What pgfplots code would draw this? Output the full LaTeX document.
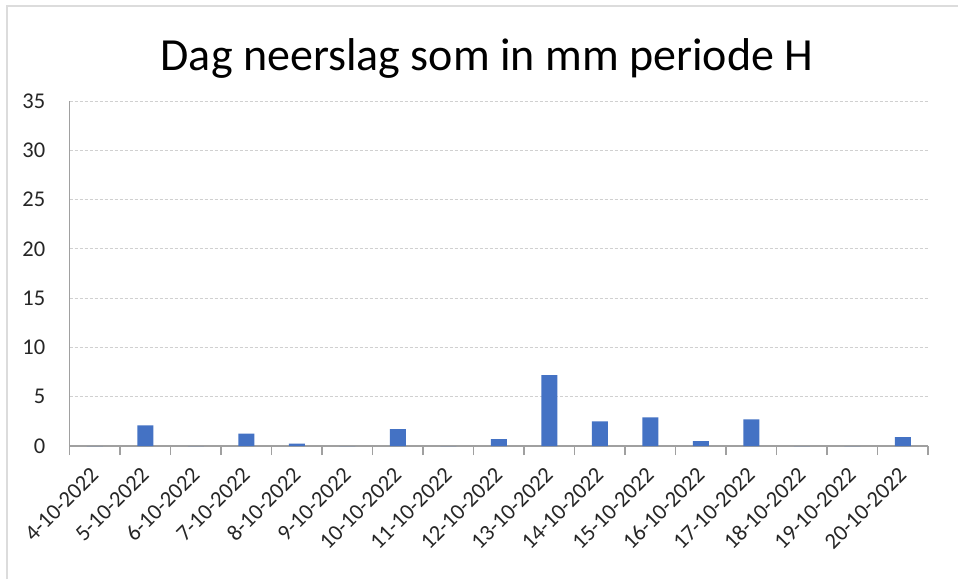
\documentclass[border=0pt]{standalone}
\usepackage{pgfplots}
\pgfplotsset{compat=1.18}
\usepackage{fontspec}
\setmainfont{Carlito}
\definecolor{barblue}{HTML}{4472C4}
\definecolor{gridgray}{HTML}{D0D0D0}
\definecolor{axgray}{HTML}{A0A0A0}
\definecolor{txt}{HTML}{262626}
\definecolor{frame}{HTML}{DCDCDC}
\begin{document}
\begin{tikzpicture}[x=1pt,y=1pt]
\useasboundingbox (0,0) rectangle (958,579);
\fill[white] (0,0) rectangle (958,579);
\draw[frame, line width=2pt] (7,0) -- (7,573) -- (958,573);
\node[anchor=base, font=\fontsize{46}{52}\selectfont, text=black] at (487,508) {Dag neerslag som in mm periode H};
\begin{axis}[
  at={(69.5pt,133pt)}, anchor=south west,
  scale only axis, width=858.5pt, height=345pt,
  xmin=-0.5, xmax=16.5, ymin=0, ymax=35,
  ytick={0,5,...,35},
  xtick={0,...,16},
  xticklabels={4-10-2022,5-10-2022,6-10-2022,7-10-2022,8-10-2022,9-10-2022,10-10-2022,11-10-2022,12-10-2022,13-10-2022,14-10-2022,15-10-2022,16-10-2022,17-10-2022,18-10-2022,19-10-2022,20-10-2022},
  minor xtick={-0.5,0.5,...,16.5},
  major tick length=0pt,
  minor tick length=9pt,
  tick align=outside,
  tick style={axgray, line width=1.5pt},
  axis x line*=bottom, axis y line*=left,
  axis line style={axgray, line width=1.8pt, -},
  ymajorgrids,
  major grid style={gridgray, line width=1pt, dash pattern=on 3pt off 2pt},
  /pgf/number format/assume math mode=true,
  ticklabel style={font=\fontsize{22.5}{26}\selectfont, text=txt},
  yticklabel style={inner sep=0pt, anchor=east, xshift=-24pt},
  xticklabel style={yshift=-25pt, inner sep=0pt, rotate=45, anchor=east},
  clip=false,
]
\addplot[ybar, bar width=16pt, fill=barblue, draw=none] coordinates {
(0,0) (1,2.1) (2,0) (3,1.25) (4,0.25) (5,0) (6,1.7) (7,0) (8,0.7) (9,7.2) (10,2.5) (11,2.9) (12,0.5) (13,2.7) (14,0) (15,0) (16,0.9)
};
\end{axis}
\end{tikzpicture}
\end{document}
